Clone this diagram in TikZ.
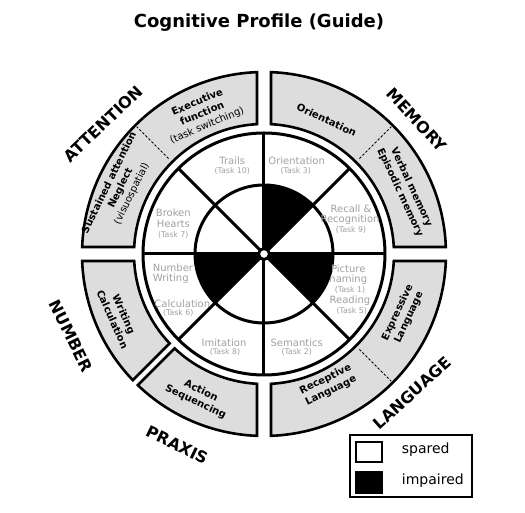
\documentclass[tikz,border=0pt]{standalone}
\usepackage{fontspec}
\setmainfont{DejaVu Sans}
\definecolor{bandgray}{RGB}{221,221,221}
\definecolor{tasktext}{RGB}{160,160,160}
\tikzset{
  band/.style={fill=bandgray, draw=black, line width=2.6pt, line join=miter},
  wheel/.style={line width=3pt},
  task/.style={text=tasktext, font=\fontsize{10}{11}\selectfont, inner sep=0pt},
  tasknum/.style={text=tasktext, font=\fontsize{7.8}{9}\selectfont, inner sep=0pt},
  blabel/.style={font=\fontsize{10}{12.5}\selectfont, align=center, inner sep=0pt},
  catlabel/.style={font=\bfseries\fontsize{16}{18}\selectfont, inner sep=0pt},
  sepline/.style={line width=1pt, dash pattern=on 2.5pt off 1.8pt},
}
\begin{document}
\begin{tikzpicture}
\useasboundingbox (-264pt,-259pt) rectangle (261pt,254pt);
% title
\node[font=\bfseries\fontsize{18}{21}\selectfont, inner sep=0pt] (title) at (-5pt,231pt) {Cognitive Profile (Guide)};
% bands
\draw[band] ({0+asin(7/182)}:182pt) arc[start angle={0+asin(7/182)}, end angle={90-asin(7/182)}, radius=182pt]
  -- ({90-asin(7/130)}:130pt) arc[start angle={90-asin(7/130)}, end angle={0+asin(7/130)}, radius=130pt] -- cycle;
\draw[band] ({90+asin(7/182)}:182pt) arc[start angle={90+asin(7/182)}, end angle={180-asin(7/182)}, radius=182pt]
  -- ({180-asin(7/130)}:130pt) arc[start angle={180-asin(7/130)}, end angle={90+asin(7/130)}, radius=130pt] -- cycle;
\draw[band] ({270+asin(7/182)}:182pt) arc[start angle={270+asin(7/182)}, end angle={360-asin(7/182)}, radius=182pt]
  -- ({360-asin(7/130)}:130pt) arc[start angle={360-asin(7/130)}, end angle={270+asin(7/130)}, radius=130pt] -- cycle;
\draw[band] ({180+asin(7/182)}:182pt) arc[start angle={180+asin(7/182)}, end angle={225-asin(3.5/182)}, radius=182pt]
  -- ({225-asin(3.5/130)}:130pt) arc[start angle={225-asin(3.5/130)}, end angle={180+asin(7/130)}, radius=130pt] -- cycle;
\draw[band] ({225+asin(3.5/182)}:182pt) arc[start angle={225+asin(3.5/182)}, end angle={270-asin(7/182)}, radius=182pt]
  -- ({270-asin(7/130)}:130pt) arc[start angle={270-asin(7/130)}, end angle={225+asin(3.5/130)}, radius=130pt] -- cycle;
% dashed separators
\draw[sepline] (135:135pt) -- (135:180pt);
\draw[sepline] (45:135pt) -- (45:180pt);
\draw[sepline] (-45:135pt) -- (-45:180pt);
% wheel
\fill (0,0) -- (45:69pt) arc[start angle=45, end angle=90, radius=69pt] -- cycle;
\fill (0,0) -- (180:69pt) arc[start angle=180, end angle=225, radius=69pt] -- cycle;
\fill (0,0) -- (0:69pt) arc[start angle=0, end angle=-45, radius=69pt] -- cycle;
\draw[wheel] (0,0) circle[radius=69pt];
\foreach \a in {0,45,90,135} {
  \draw[wheel] (\a:121pt) -- (\a+180:121pt);
}
\draw[wheel] (0,0) circle[radius=121pt];
\draw[wheel, fill=white] (0,0) circle[radius=5.5pt];
% task labels
\node[task] (trails) at (-31.7pt,93.3pt) {Trails};
\node[tasknum] (trailsn) at (-31.7pt,83.3pt) {(Task 10)};
\node[task] (orient) at (32.7pt,93.3pt) {Orientation};
\node[tasknum] (orientn) at (31.7pt,83.3pt) {(Task 3)};
\node[task] (recall) at (87pt,45pt) {Recall \&};
\node[task] (recog) at (86pt,34pt) {Recognition};
\node[tasknum] (recalln) at (87pt,24pt) {(Task 9)};
\node[task] (pict) at (84.3pt,-14.3pt) {Picture};
\node[task] (naming) at (84.3pt,-25.3pt) {naming};
\node[tasknum] (pictn) at (86pt,-36pt) {(Task 1)};
\node[task] (reading) at (86pt,-47pt) {Reading};
\node[tasknum] (readingn) at (87.7pt,-56.7pt) {(Task 5)};
\node[task] (seman) at (32.7pt,-88.3pt) {Semantics};
\node[tasknum] (semann) at (32.7pt,-97.7pt) {(Task 2)};
\node[task] (imit) at (-40pt,-88.3pt) {Imitation};
\node[tasknum] (imitn) at (-39pt,-97.7pt) {(Task 8)};
\node[task, anchor=west] (numb) at (-111.3pt,-13.7pt) {Number};
\node[task, anchor=west] (writ) at (-111.3pt,-24.7pt) {Writing};
\node[task] (calc) at (-81.7pt,-49.3pt) {Calculation};
\node[tasknum] (calcn) at (-85.7pt,-59.3pt) {(Task 6)};
\node[task] (broken) at (-90.7pt,41.3pt) {Broken};
\node[task] (hearts) at (-90.7pt,29.7pt) {Hearts};
\node[tasknum] (heartsn) at (-90.7pt,19pt) {(Task 7)};
% band labels
\node[blabel, rotate=23] (exec) at (-61.7pt,140pt) {\textbf{Executive}\\\textbf{function}\\(task switching)};
\node[blabel, rotate=64] (sust) at (-143.3pt,65.7pt) {\textbf{Sustained attention}\\\textbf{Neglect}\\(visuospatial)};
\node[blabel, rotate=-25] (orib) at (62.7pt,134pt) {\textbf{Orientation}};
\node[blabel, rotate=-65] (verb) at (141.7pt,64pt) {\textbf{Verbal memory}\\\textbf{Episodic memory}};
\node[blabel, rotate=65] (expr) at (139.3pt,-61pt) {\textbf{Expressive}\\\textbf{Language}};
\node[blabel, rotate=26] (recep) at (64.3pt,-131pt) {\textbf{Receptive}\\\textbf{Language}};
\node[blabel, rotate=-66] (wcalc) at (-145.7pt,-62.7pt) {\textbf{Writing}\\\textbf{Calculation}};
\node[blabel, rotate=-25] (action) at (-65.7pt,-142.7pt) {\textbf{Action}\\\textbf{Sequencing}};
% category labels
\node[catlabel, rotate=44] (catatt) at (-160.7pt,130pt) {ATTENTION};
\node[catlabel, rotate=-47] (catmem) at (153pt,134pt) {MEMORY};
\node[catlabel, rotate=42] (catlang) at (148pt,-139pt) {LANGUAGE};
\node[catlabel, rotate=-64] (catnum) at (-193pt,-82pt) {NUMBER};
\node[catlabel, rotate=-26] (catprax) at (-87pt,-191pt) {PRAXIS};
% legend
\draw[line width=1.8pt] (86pt,-181pt) rectangle (207.7pt,-243pt);
\draw[line width=2.2pt, fill=white] (92pt,-187.7pt) rectangle (117.7pt,-207.7pt);
\draw[line width=2.2pt, fill=black] (92pt,-217.7pt) rectangle (117.7pt,-239.3pt);
\node[font=\fontsize{14}{16}\selectfont, anchor=base west, inner sep=0pt] (spared) at (137.7pt,-199.3pt) {spared};
\node[font=\fontsize{14}{16}\selectfont, anchor=base west, inner sep=0pt] (impaired) at (137.7pt,-231pt) {impaired};
\end{tikzpicture}
\end{document}
